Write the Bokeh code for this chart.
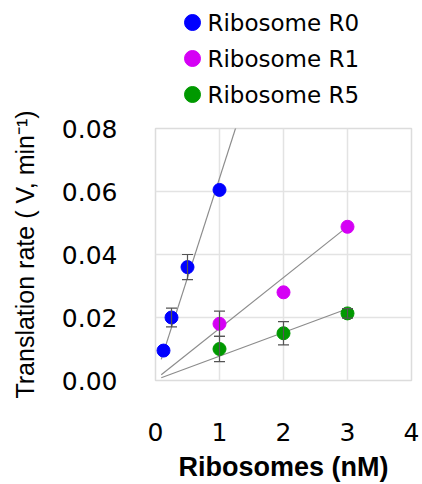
from bokeh.plotting import figure
from bokeh.layouts import column
from bokeh.models import (Range1d, FixedTicker, NumeralTickFormatter,
                          ColumnDataSource, Whisker, TeeHead)
from bokeh.core.properties import value
from bokeh.embed import file_html
from bokeh.resources import INLINE

# ---- data ----
series_names = ["Ribosome R0", "Ribosome R1", "Ribosome R5"]
series_colors = ["#0000FF", "#D500F5", "#009900"]

r0_x = [0.125, 0.25, 0.5, 1.0]
r0_y = [0.0095, 0.020, 0.036, 0.0605]
r0_err = [0.0, 0.003, 0.004, 0.0]

r1_x = [1.0, 2.0, 3.0]
r1_y = [0.018, 0.028, 0.0488]
r1_err = [0.004, 0.0, 0.0]

r5_x = [1.0, 2.0, 3.0]
r5_y = [0.010, 0.015, 0.0213]
r5_err = [0.004, 0.0037, 0.0015]

fit_slope = [0.0632, 0.01615, 0.00752]
fit_intercept = [0.0010, 0.0004, 0.0002]
fit_x_start = [0.09, 0.09, 0.09]
fit_x_end = [1.4, 3.0, 3.0]

x_ticks = [0, 1, 2, 3, 4]
y_ticks = [0.0, 0.02, 0.04, 0.06, 0.08]

W = 422
BL, BR = 155, 11
FW = W - BL - BR  # frame width

# ---- legend strip (pixel-unit ranges, same frame columns as main plot) ----
LH = 108
leg = figure(width=W, height=LH, output_backend="svg", toolbar_location=None,
             x_range=Range1d(0, FW), y_range=Range1d(0, LH),
             min_border_left=BL, min_border_right=BR, min_border_top=0, min_border_bottom=0,
             outline_line_color=None)
leg.axis.visible = False
leg.grid.visible = False
row_gap = 36
first_row = 22
mk_x = 37
tx_x = 52
rows_y = [LH - first_row - i * row_gap for i in range(len(series_names))]
leg.scatter([mk_x] * len(series_names), rows_y, size=16,
            fill_color=series_colors, line_color=series_colors)
leg.text([tx_x] * len(series_names), rows_y, text=series_names,
         text_font=value("DejaVu Sans"), text_font_size="23px",
         text_baseline="middle", text_align="left", text_color="#000000")

# ---- main plot ----
p = figure(width=W, height=376, output_backend="svg", toolbar_location=None,
           x_range=Range1d(0, 4), y_range=Range1d(0, 0.08),
           min_border_left=BL, min_border_right=BR, min_border_top=20, min_border_bottom=100)

p.outline_line_color = "#dcdcdc"
p.outline_line_width = 1.5
p.grid.grid_line_color = "#e3e3e3"
p.grid.grid_line_width = 1.5

p.xaxis.ticker = FixedTicker(ticks=x_ticks)
p.yaxis.ticker = FixedTicker(ticks=y_ticks)
p.yaxis.formatter = NumeralTickFormatter(format="0.00")
for ax in (p.xaxis, p.yaxis):
    ax.axis_line_color = None
    ax.major_tick_line_color = None
    ax.minor_tick_line_color = None
    ax.major_tick_out = 0
    ax.major_tick_in = 0
    ax.major_label_text_font = "DejaVu Sans"
    ax.major_label_text_font_size = "25px"
    ax.major_label_text_color = "#000000"
    ax.axis_label_text_color = "#000000"
p.xaxis.major_label_standoff = 42
p.yaxis.major_label_standoff = 38
p.xaxis.axis_label = "Ribosomes (nM)"
p.xaxis.axis_label_text_font = "Liberation Sans"
p.xaxis.axis_label_text_font_style = "bold"
p.xaxis.axis_label_text_font_size = "27px"
p.xaxis.axis_label_standoff = 8
p.yaxis.axis_label = "Translation rate ( V, min\u207b\u00b9)"
p.yaxis.axis_label_text_font = "Liberation Sans"
p.yaxis.axis_label_text_font_style = "normal"
p.yaxis.axis_label_text_font_size = "25px"
p.yaxis.axis_label_standoff = 20

# fit lines
for s, b, xs, xe in zip(fit_slope, fit_intercept, fit_x_start, fit_x_end):
    p.line([xs, xe], [b + s * xs, b + s * xe], line_color="#8c8c8c", line_width=1.2)

all_x = [r0_x, r1_x, r5_x]
all_y = [r0_y, r1_y, r5_y]
all_e = [r0_err, r1_err, r5_err]

for xs, ys, es, col in zip(all_x, all_y, all_e, series_colors):
    sel = [i for i, e in enumerate(es) if e > 0]
    if sel:
        src = ColumnDataSource(dict(x=[xs[i] for i in sel],
                                    lo=[ys[i] - es[i] for i in sel],
                                    hi=[ys[i] + es[i] for i in sel]))
        w = Whisker(base="x", lower="lo", upper="hi", source=src, level="glyph",
                    line_color="#555555", line_width=1.2,
                    upper_head=TeeHead(size=11, line_color="#555555", line_width=1.2),
                    lower_head=TeeHead(size=11, line_color="#555555", line_width=1.2))
        p.add_layout(w)
    p.scatter(xs, ys, size=13, fill_color=col, line_color=col)

layout = column(leg, p, spacing=0)
open("out.html", "w").write(file_html(layout, INLINE))
